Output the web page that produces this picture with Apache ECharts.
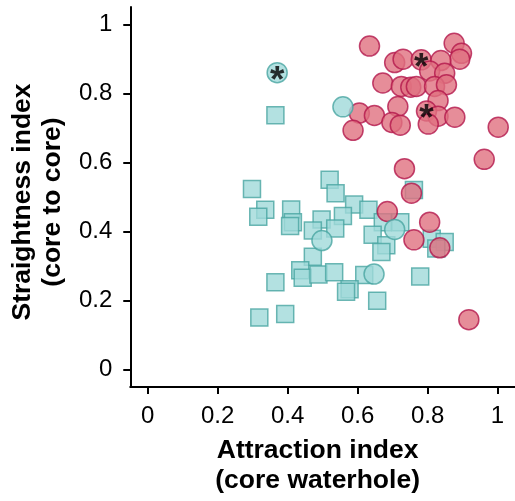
<!DOCTYPE html>
<html><head><meta charset="utf-8">
<script src="https://cdn.jsdelivr.net/npm/echarts@6/dist/echarts.min.js"></script>
<style>html,body{margin:0;padding:0;background:#fff}#c{width:515px;height:501px}</style>
</head><body><div id="c"></div>
<script>
const tickValues = [0, 0.2, 0.4, 0.6, 0.8, 1];
const xTitle = 'Attraction index\n(core waterhole)';
const yTitle = 'Straightness index\n(core to core)';

// red circles [attraction, straightness]
const redCircles = [
  [0.634,0.937],[0.876,0.945],[0.897,0.916],[0.892,0.899],[0.706,0.889],[0.730,0.899],
  [0.782,0.897],[0.838,0.895],[0.806,0.865],[0.849,0.858],[0.672,0.830],[0.725,0.820],
  [0.752,0.818],[0.768,0.820],[0.820,0.820],[0.854,0.825],[0.830,0.779],[0.715,0.762],
  [0.605,0.743],[0.648,0.736],[0.698,0.716],[0.722,0.708],[0.797,0.749],[0.830,0.734],
  [0.878,0.731],[0.802,0.711],[0.587,0.693],[1.002,0.702],[0.962,0.609],[0.734,0.582],
  [0.754,0.511],[0.685,0.458],[0.806,0.427],[0.761,0.376],[0.835,0.353],[0.918,0.145]
];
// teal circles
const tealCircles = [
  [0.370,0.860],[0.558,0.761],[0.498,0.374],[0.706,0.406],[0.647,0.277]
];
// teal squares
const tealSquares = [
  [0.365,0.737],[0.298,0.523],[0.520,0.550],[0.537,0.511],[0.336,0.463],[0.316,0.443],
  [0.410,0.464],[0.415,0.427],[0.407,0.416],[0.590,0.478],[0.631,0.463],[0.497,0.435],
  [0.558,0.445],[0.472,0.403],[0.536,0.409],[0.761,0.520],[0.672,0.427],[0.722,0.427],
  [0.643,0.391],[0.682,0.360],[0.668,0.341],[0.812,0.379],[0.849,0.370],[0.825,0.351],
  [0.472,0.327],[0.436,0.288],[0.443,0.266],[0.488,0.276],[0.533,0.282],[0.619,0.274],
  [0.577,0.233],[0.567,0.226],[0.365,0.253],[0.779,0.270],[0.656,0.200],[0.319,0.151],
  [0.393,0.161]
];
// points marked with an asterisk
const starred = [[0.782,0.897],[0.797,0.749],[0.370,0.860]];

const FONT = 'Liberation Sans, Arial, sans-serif';
const redFill = '#e07080', redLine = '#b3164b';
const tealFill = '#a0d9d9', tealLine = '#48a5a1';

const chart = echarts.init(document.getElementById('c'), null, {renderer: 'canvas'});
const axisCommon = {
  type: 'value', min: -0.05, max: 1.05,
  splitLine: {show: false},
  axisLine: {show: true, onZero: false, lineStyle: {color: '#000', width: 2}},
  axisTick: {show: true, length: 7, customValues: tickValues, lineStyle: {color: '#000', width: 2}},
  axisLabel: {customValues: tickValues, color: '#000', fontSize: 24, fontFamily: FONT,
              formatter: v => String(v)},
  nameLocation: 'middle',
  nameTextStyle: {color: '#000', fontSize: 26.5, fontWeight: 'bold', fontFamily: FONT, lineHeight: 30,
                  padding: [0, 10, 0, 0]}
};
chart.setOption({
  animation: false,
  backgroundColor: '#fff',
  grid: {left: 130, top: 7, right: 0, bottom: 111, containLabel: false},
  xAxis: Object.assign({}, axisCommon, {name: xTitle, nameGap: 49,
    axisLabel: Object.assign({}, axisCommon.axisLabel, {margin: 17})}),
  yAxis: Object.assign({}, axisCommon, {name: yTitle, nameGap: 62, nameRotate: 90,
    axisLabel: Object.assign({}, axisCommon.axisLabel, {margin: 18})}),
  series: [
    {type: 'scatter', data: tealSquares, symbol: 'rect', symbolSize: 17,
     itemStyle: {color: tealFill, borderColor: tealLine, borderWidth: 1.5}},
    {type: 'scatter', data: redCircles, symbol: 'circle', symbolSize: 20,
     itemStyle: {color: redFill, borderColor: redLine, borderWidth: 1.5}},
    {type: 'scatter', data: tealCircles, symbol: 'circle', symbolSize: 20,
     itemStyle: {color: tealFill, borderColor: tealLine, borderWidth: 1.5}},
    {type: 'scatter', data: starred, symbolSize: 1, itemStyle: {color: 'rgba(0,0,0,0)'},
     label: {show: true, position: 'inside', formatter: '*', color: '#000', fontSize: 37,
             fontWeight: 'bold', fontFamily: FONT, offset: [0, 9]}}
  ]
});
</script></body></html>
